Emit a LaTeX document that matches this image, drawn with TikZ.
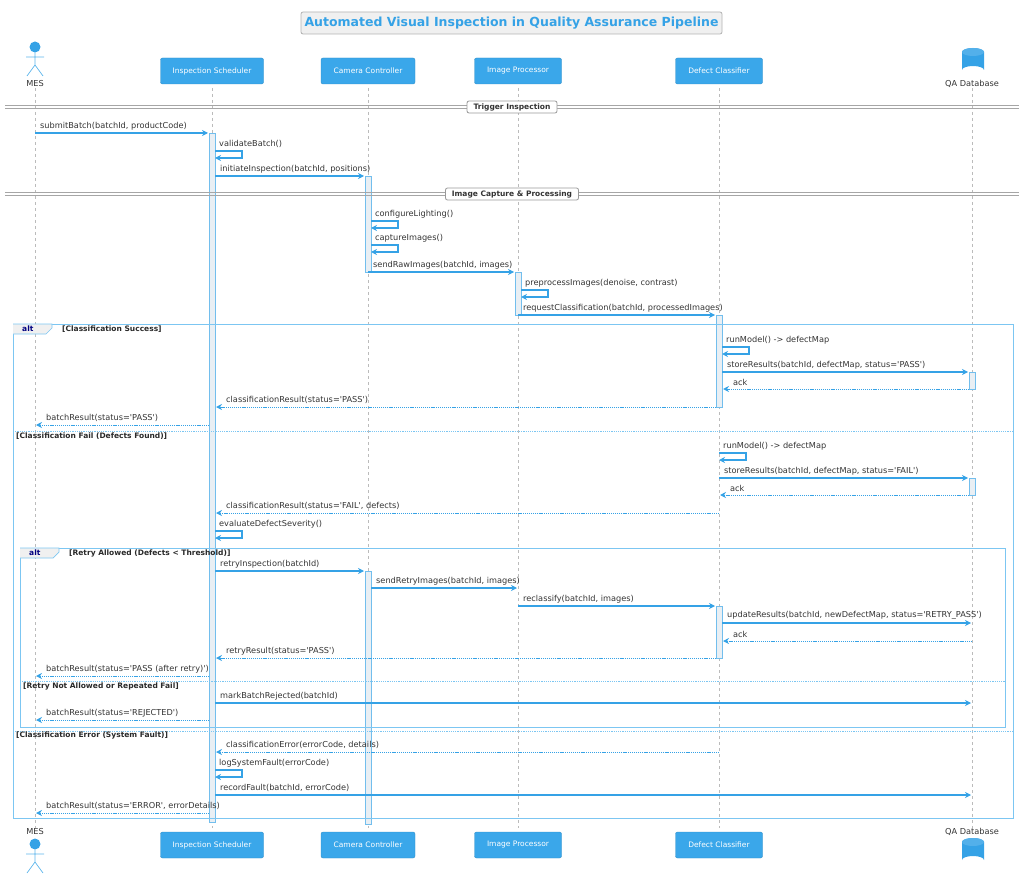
\documentclass[tikz,border=0pt]{standalone}
\usepackage{fontspec}
\setmainfont{DejaVu Sans}
\usetikzlibrary{arrows.meta,shapes.geometric}
\newcommand{\qq}{\textquotesingle}
\definecolor{blu}{HTML}{35A2E6}
\definecolor{boxb}{HTML}{3AA7EA}
\definecolor{frm}{HTML}{7CC6F2}
\definecolor{act}{HTML}{E9EFF4}
\definecolor{txt}{HTML}{333333}
\definecolor{lif}{HTML}{BBBBBB}
\tikzset{
 part/.style={draw=boxb!85!black,fill=boxb,rounded corners=2pt,minimum width=#1,minimum height=26pt,text=white,font=\fontsize{7.5}{8}\selectfont,inner sep=0},
 msgl/.style={blu,line width=1.1pt,-{Stealth[length=6pt,width=6pt]}},
 retl/.style={blu,line width=1pt,dash pattern=on 1.2pt off 0.9pt,-{Stealth[length=6pt,width=6pt]}},
 lbl/.style={font=\fontsize{8.2}{9}\selectfont,text=txt,anchor=south west,inner sep=0},
 actv/.style={draw=blu!70,fill=act,line width=0.5pt},
 frame/.style={draw=frm,line width=0.7pt},
 sep/.style={draw=frm,line width=0.7pt,dash pattern=on 1.2pt off 1pt},
 grd/.style={font=\bfseries\fontsize{7.5}{8}\selectfont,text=txt!80!black,anchor=west,inner sep=0},
}
\newcommand{\msg}[4]{\draw[msgl] (#2,#1) -- (#3,#1); \node[lbl] at ({min(#2,#3)+5},#1-3) {#4};}
\newcommand{\ret}[4]{\draw[retl] (#2,#1) -- (#3,#1); \node[lbl] at ({min(#2,#3)+10},#1-3) {#4};}
\newcommand{\selfm}[3]{\draw[msgl] (#2,#1) -- (#2+27,#1) -- (#2+27,#1+7) -- (#2,#1+7); \node[lbl] at (#2+4,#1-3) {#3};}
\newcommand{\divider}[3]{\draw[gray!70,line width=0.6pt] (5,#1-1.5) -- (1019,#1-1.5) (5,#1+1.5) -- (1019,#1+1.5);
 \node[draw=gray!80,fill=white,rounded corners=2pt,line width=0.8pt,minimum width=#3,minimum height=12pt,inner sep=1pt] (#2) at (512,#1) {};}
\newcommand{\dbase}[2]{\fill[blu] (962,#1+4) arc[start angle=180,end angle=360,x radius=11,y radius=4] -- (984,#1+22) arc[start angle=0,end angle=-180,x radius=11,y radius=4] -- cycle;
 \fill[blu!85!white] (973,#1+4) ellipse[x radius=11,y radius=4];
 \coordinate (#2) at (973,#1+13);}
\begin{document}
\begin{tikzpicture}[x=1pt,y=-1pt]
\useasboundingbox (0,0) rectangle (1024,882);
% title
\node[draw=gray!60,fill=gray!12,rounded corners=2pt,line width=0.8pt,minimum width=421pt,minimum height=22pt,text=blu,font=\bfseries\fontsize{12.5}{14}\selectfont] (title) at (511.5,23) {Automated Visual Inspection in Quality Assurance Pipeline};
% lifelines
\foreach \x in {35,212,368,518,719,972} \draw[lif,dashed,line width=0.6pt] (\x,88) -- (\x,828);
% participants
\foreach \n/\x/\w/\t in {schT/212/103/Inspection Scheduler,camT/368/94/Camera Controller,ipT/518/87/Image Processor,dcT/719/87/Defect Classifier}{
 \node[part=\w pt] (\n) at (\x,71) {\t};
 \node[part=\w pt] (\n B) at (\x,845) {\t};}
% actor MES
\foreach \yy/\nm in {47/mesT,844/mesB}{
 \fill[blu] (35,\yy) circle (5.5);
 \draw[blu!80,line width=0.7pt] (35,\yy+5.5) -- (35,\yy+18) (26,\yy+10) -- (44,\yy+10) (27,\yy+29) -- (35,\yy+18) -- (43,\yy+29);
 \coordinate (\nm) at (35,\yy);}
\node[lbl,anchor=center] (mesL) at (35,84) {MES};
\node[lbl,anchor=center] (mesL2) at (35,832) {MES};
% database
\dbase{48}{qaT}
\dbase{838}{qaB}
\node[lbl,anchor=center] (qaL) at (972,84) {QA Database};
\node[lbl,anchor=center] (qaL2) at (972,832) {QA Database};
% activations
\draw[actv] (209,133) rectangle (215,822);
\draw[actv] (365,176) rectangle (371,272);
\draw[actv] (515,272) rectangle (521,315);
\draw[actv] (716,315) rectangle (722,407);
\draw[actv] (969,372) rectangle (975,389);
\draw[actv] (969,478) rectangle (975,495);
\draw[actv] (365,571) rectangle (371,824);
\draw[actv] (716,606) rectangle (722,658);
% dividers
\divider{107}{d1}{90pt}
\node[font=\bfseries\fontsize{7.5}{8}\selectfont,text=txt] at (512,107) {Trigger Inspection};
\divider{194}{d2}{133pt}
\node[font=\bfseries\fontsize{7.5}{8}\selectfont,text=txt] at (512,194) {Image Capture \& Processing};
% frames
\draw[frame] (13,324) rectangle (1013,818);
\draw[frame,fill=gray!12] (13,324) -- (52,324) -- (52,328) -- (46,334) -- (13,334);
\node[grd,text=blue!50!black] at (22,329) {alt};
\node[grd] at (62,329) {[Classification Success]};
\draw[sep] (13,431) -- (1013,431);
\node[grd] at (16,436) {[Classification Fail (Defects Found)]};
\draw[sep] (13,731) -- (1013,731);
\node[grd] at (16,735) {[Classification Error (System Fault)]};
\draw[frame] (20,548) rectangle (1005,727);
\draw[frame,fill=gray!12] (20,548) -- (59,548) -- (59,552) -- (53,558) -- (20,558);
\node[grd,text=blue!50!black] at (29,553) {alt};
\node[grd] at (69,553) {[Retry Allowed (Defects < Threshold)]};
\draw[sep] (20,681) -- (1005,681);
\node[grd] at (23,686) {[Retry Not Allowed or Repeated Fail]};
% messages
\msg{133}{35}{208}{submitBatch(batchId, productCode)}
\selfm{151}{215}{validateBatch()}
\msg{176}{215}{364}{initiateInspection(batchId, positions)}
\selfm{221}{371}{configureLighting()}
\selfm{245}{371}{captureImages()}
\msg{272}{368}{514}{sendRawImages(batchId, images)}
\selfm{290}{521}{preprocessImages(denoise, contrast)}
\msg{315}{518}{715}{requestClassification(batchId, processedImages)}
\selfm{347}{722}{runModel() -> defectMap}
\msg{372}{722}{968}{storeResults(batchId, defectMap, status=\qq PASS\qq)}
\ret{389}{969}{723}{ack}
\ret{407}{716}{216}{classificationResult(status=\qq PASS\qq)}
\ret{425}{209}{36}{batchResult(status=\qq PASS\qq)}
\selfm{453}{719}{runModel() -> defectMap}
\msg{478}{719}{968}{storeResults(batchId, defectMap, status=\qq FAIL\qq)}
\ret{495}{969}{720}{ack}
\ret{513}{719}{216}{classificationResult(status=\qq FAIL\qq, defects)}
\selfm{531}{215}{evaluateDefectSeverity()}
\msg{571}{215}{364}{retryInspection(batchId)}
\msg{588}{371}{517}{sendRetryImages(batchId, images)}
\msg{606}{518}{715}{reclassify(batchId, images)}
\msg{623}{722}{971}{updateResults(batchId, newDefectMap, status=\qq RETRY\_PASS\qq)}
\ret{641}{972}{723}{ack}
\ret{658}{716}{216}{retryResult(status=\qq PASS\qq)}
\ret{676}{209}{36}{batchResult(status=\qq PASS (after retry)\qq)}
\msg{703}{215}{971}{markBatchRejected(batchId)}
\ret{720}{209}{36}{batchResult(status=\qq REJECTED\qq)}
\ret{752}{719}{216}{classificationError(errorCode, details)}
\selfm{770}{215}{logSystemFault(errorCode)}
\msg{795}{215}{971}{recordFault(batchId, errorCode)}
\ret{813}{209}{36}{batchResult(status=\qq ERROR\qq, errorDetails)}
\end{tikzpicture}
\end{document}
